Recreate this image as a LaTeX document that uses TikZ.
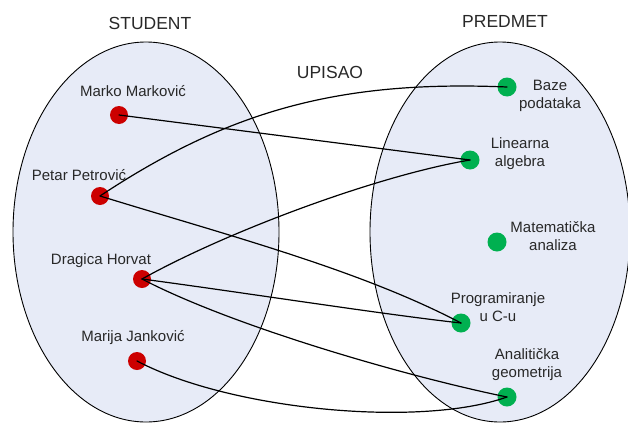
\documentclass[tikz,border=0pt]{standalone}
\usepackage{fontspec}
\setmainfont{Liberation Sans}
\usepackage{xcolor}
\usepackage{tikz}
\usetikzlibrary{calc,positioning}
\definecolor{setfill}{RGB}{231,235,247}
\definecolor{studred}{RGB}{204,0,0}
\definecolor{predgreen}{RGB}{0,176,80}
\definecolor{labelgray}{RGB}{40,40,40}

\begin{document}
\begin{tikzpicture}[line cap=round,line join=round,x=1pt,y=-1pt,
  sdot/.style={circle,fill=studred,minimum size=18pt,inner sep=0pt},
  pdot/.style={circle,fill=predgreen,minimum size=19pt,inner sep=0pt},
  lbl/.style={text=labelgray,align=center,font=\fontsize{15}{18}\selectfont,inner sep=0pt},
  head/.style={text=labelgray,font=\fontsize{17.5}{20}\selectfont,inner sep=0pt},
  upis/.style={black,line width=1.2pt}]
\useasboundingbox (0,0) rectangle (628,423);
% the two sets
\draw[fill=setfill,line width=0.9pt] (146,232) ellipse [x radius=133pt, y radius=190pt];
\draw[fill=setfill,line width=0.9pt] (500,232) ellipse [x radius=130pt, y radius=190pt];
\node[head] (hS) at (150,23) {STUDENT};
\node[head] (hP) at (505,21) {PREDMET};
\node[head] (hU) at (330,72) {UPISAO};
% students
\node[sdot] (S1) at (119,115) {};
\node[sdot] (S2) at (100,196) {};
\node[sdot] (S3) at (142,279) {};
\node[sdot] (S4) at (137,361) {};
\node[lbl] at (133,91) {Marko Marković};
\node[lbl] at (79,175) {Petar Petrović};
\node[lbl] at (101,261) {Dragica Horvat};
\node[lbl] at (133,338) {Marija Janković};
% courses
\node[pdot] (P1) at (507,87) {};
\node[pdot] (P2) at (470,160) {};
\node[pdot] (P3) at (497,242) {};
\node[pdot] (P4) at (461,323) {};
\node[pdot] (P5) at (507,397) {};
\node[lbl] at (550,96) {Baze\\podataka};
\node[lbl] at (520,154) {Linearna\\algebra};
\node[lbl] at (553,236) {Matematička\\analiza};
\node[lbl] at (498,307) {Programiranje\\u C-u};
\node[lbl] at (527,365) {Analitička\\geometrija};
% upisao
\draw[upis] (S1.center) -- (P2.center);
\draw[upis] (S2.center) .. controls (230,110) and (340,80) .. (P1.center);
\draw[upis] (S2.center) .. controls (230,236) and (360,270) .. (P4.center);
\draw[upis] (S3.center) .. controls (230,230) and (380,175) .. (P2.center);
\draw[upis] (S3.center) .. controls (240,292) and (380,314) .. (P4.center);
\draw[upis] (S3.center) .. controls (230,325) and (400,375) .. (P5.center);
\draw[upis] (S4.center) .. controls (230,410) and (420,428) .. (P5.center);
\end{tikzpicture}
\end{document}
